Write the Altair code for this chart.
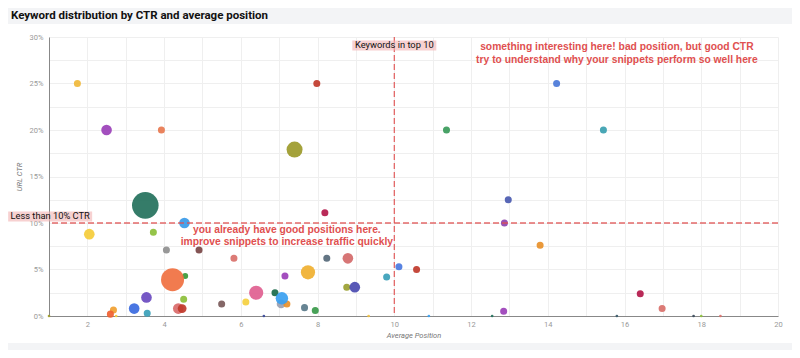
import altair as alt
import pandas as pd

# ---- data ----
positions = [1.74, 2.50, 3.93, 7.98, 7.40, 14.23, 11.36, 15.45, 3.51, 8.19,
             4.53, 2.05, 3.72, 4.06, 4.91, 5.82, 8.24, 8.79, 7.75, 7.15,
             4.55, 4.22, 10.12, 10.58, 9.80, 12.97, 12.87, 13.80, 12.85, 16.41,
             16.98, 8.76, 8.97, 6.89, 6.40, 7.05, 7.20, 7.07, 6.13, 5.50,
             3.54, 4.51, 7.66, 7.94, 3.22, 3.56, 2.68, 2.60, 4.37, 4.47,
             1.00, 6.60, 9.33, 10.90, 12.55, 15.80, 17.80, 18.00, 18.50, 2.75]
ctr = [0.250, 0.200, 0.200, 0.250, 0.179, 0.250, 0.200, 0.200, 0.119, 0.111,
       0.100, 0.088, 0.090, 0.071, 0.071, 0.062, 0.062, 0.062, 0.047, 0.043,
       0.043, 0.039, 0.053, 0.050, 0.042, 0.125, 0.100, 0.076, 0.005, 0.024,
       0.008, 0.031, 0.031, 0.025, 0.025, 0.013, 0.013, 0.019, 0.015, 0.013,
       0.020, 0.018, 0.009, 0.006, 0.008, 0.003, 0.0065, 0.002, 0.008, 0.008,
       0.0, 0.0, 0.0, 0.0, 0.0, 0.0, 0.0, 0.0, 0.0, 0.0]
clicks = [14, 32, 14, 14, 72, 14, 14, 14, 200, 14,
          32, 32, 14, 14, 14, 14, 14, 32, 57, 14,
          10, 150, 14, 14, 14, 14, 14, 14, 14, 14,
          14, 14, 32, 14, 57, 22, 14, 44, 14, 14,
          32, 14, 14, 14, 32, 14, 14, 14, 32, 22,
          2, 2, 2, 2, 2, 2, 2, 2, 2, 2]
keywords = [f"keyword {i + 1}" for i in range(len(positions))]

palette = ["#f0b93a", "#9b40b8", "#e8784f", "#c0392b", "#9c9a2a", "#4a78d8", "#3a9a5a", "#3aa0b0", "#24715c", "#b3184a",
           "#3a9ae8", "#f5cc3a", "#8cbf3a", "#8f8f8f", "#7a4545", "#d9706a", "#56697a", "#d46a6a", "#f0b030", "#9b40b8",
           "#3a9a3a", "#f07040", "#4a78e0", "#c0392b", "#3aa0b8", "#4a5ab0", "#8e44ad", "#e8902a", "#9b40b8", "#b3184a",
           "#d9706a", "#9aa030", "#4a4ab0", "#1a6a4a", "#e06090", "#9aa0b0", "#e8902a", "#3aa0f0", "#f5d040", "#7a5a5a",
           "#6a4ac0", "#8cbf3a", "#5a7a8a", "#3a9a4a", "#3a6ae0", "#3aa0b8", "#f0a030", "#f06030", "#d96a6a", "#c0392b",
           "#9c9a2a", "#3a4a9a", "#f0c040", "#3aa0f0", "#24715c", "#3a5a6a", "#3a4a5a", "#8cbf3a", "#d9706a", "#f5cc3a"]

x_ticks = list(range(1, 21))
y_ticks = [round(i * 0.025, 4) for i in range(13)]

ref_x = 10
ref_y = 0.10

box_text = ["Keywords in top 10", "Less than 10% CTR"]
box_x = [10, 1.03]
box_y = [0.2909, 0.107]

ann_text = ["something interesting here! bad position, but good CTR",
            "try to understand why your snippets perform so well here",
            "you already have good positions here.",
            "improve snippets to increase traffic quickly"]
ann_x = [15.80, 15.80, 7.20, 7.20]
ann_y = [0.2892, 0.2758, 0.0925, 0.0796]

df = pd.DataFrame({"position": positions, "ctr": ctr, "clicks": clicks, "keyword": keywords})
boxes = pd.DataFrame({"text": box_text, "x": box_x, "y": box_y})
anns = pd.DataFrame({"text": ann_text, "x": ann_x, "y": ann_y})

RED = "#e05050"
xscale = alt.Scale(domain=[1, 20], nice=False, zero=False)
yscale = alt.Scale(domain=[0, 0.3], nice=False)

xaxis = alt.Axis(values=x_ticks, title="Average Position", labelOverlap=False, labelFlush=False,
                 labelExpr="datum.value % 2 == 0 ? format(datum.value, 'd') : ''")
yaxis = alt.Axis(values=y_ticks, title="URL CTR", labelOverlap=False, labelFlush=False,
                 labelExpr="round(datum.value * 1000) % 50 == 0 ? format(datum.value, '.0%') : ''")

# grey page bands (outside the white card)
band = alt.Chart(alt.Data(values=[{}])).mark_rect(color="#f3f4f6").encode(
    x=alt.value(-41), x2=alt.value(743), y=alt.value(-29), y2=alt.value(-13))
band2 = alt.Chart(alt.Data(values=[{}])).mark_rect(color="#f3f4f6").encode(
    x=alt.value(-41), x2=alt.value(743), y=alt.value(306), y2=alt.value(313))

points = alt.Chart(df).mark_circle(opacity=0.92).encode(
    x=alt.X("position:Q", scale=xscale, axis=xaxis),
    y=alt.Y("ctr:Q", scale=yscale, axis=yaxis),
    size=alt.Size("clicks:Q", scale=alt.Scale(domain=[0, 200], range=[0, 707]), legend=None),
    color=alt.Color("keyword:N", scale=alt.Scale(domain=keywords, range=palette), legend=None),
)

vrule = alt.Chart(alt.Data(values=[{}])).mark_rule(color=RED, strokeDash=[6, 3], strokeWidth=1.3, opacity=0.85).encode(
    x=alt.datum(ref_x, scale=xscale, axis=xaxis))
hrule = alt.Chart(alt.Data(values=[{}])).mark_rule(color=RED, strokeDash=[6, 3], strokeWidth=1.3, opacity=0.85).encode(
    y=alt.datum(ref_y, scale=yscale, axis=yaxis))

box_rect = alt.Chart(boxes).mark_rect(width=84, height=10, color="#f2b3b3", opacity=0.6).encode(
    x=alt.X("x:Q", scale=xscale, axis=xaxis), y=alt.Y("y:Q", scale=yscale, axis=yaxis))
box_label = alt.Chart(boxes).mark_text(font="Roboto", fontSize=9.3, color="#111", align="center", baseline="middle").encode(
    x=alt.X("x:Q", scale=xscale, axis=xaxis), y=alt.Y("y:Q", scale=yscale, axis=yaxis), text="text:N")

ann = alt.Chart(anns).mark_text(font="Liberation Sans", fontWeight="bold", fontSize=10.3, color=RED,
                                align="center", baseline="middle").encode(
    x=alt.X("x:Q", scale=xscale, axis=xaxis), y=alt.Y("y:Q", scale=yscale, axis=yaxis), text="text:N")

chart = alt.layer(band, band2, points, vrule, hrule, box_rect, box_label, ann).properties(
    width=729, height=279,
    autosize=alt.AutoSizeParams(type="none"),
    padding={"left": 41, "top": 29, "right": 14, "bottom": 34},
    background="white",
    title=alt.TitleParams("Keyword distribution by CTR and average position", anchor="start",
                          font="Roboto", fontSize=11.5, fontWeight="bold", color="#111",
                          dx=3, offset=-13.5),
).configure_view(stroke=None).configure_axis(
    domainColor="#888", domainWidth=1, ticks=False, gridColor="#efefef", gridWidth=1,
    labelColor="#999", labelFont="Roboto", labelFontSize=7.5, labelOverlap=False,
    titleColor="#777", titleFont="Roboto", titleFontSize=7.5, titleFontStyle="italic", titleFontWeight="normal",
).configure_axisX(labelPadding=4, titlePadding=4).configure_axisY(labelPadding=6, titlePadding=6)

chart.save("out.html", embed_options={"renderer": "svg", "actions": False})
